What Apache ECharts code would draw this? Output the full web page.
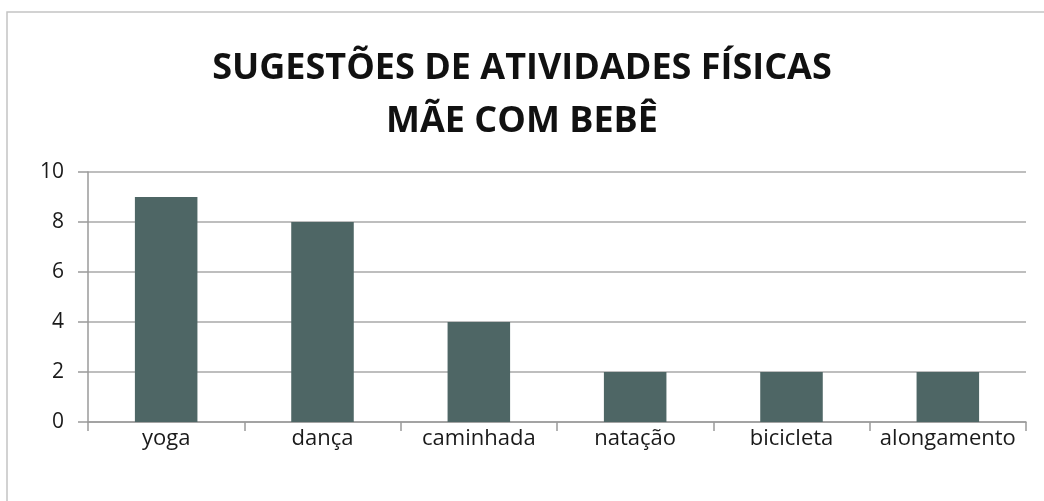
<!DOCTYPE html>
<html>
<head>
<meta charset="utf-8">
<script src="https://cdn.jsdelivr.net/npm/echarts@6/dist/echarts.min.js"></script>
<style>
  html, body { margin: 0; padding: 0; background: #fff; }
  #chart { width: 1044px; height: 501px; }
</style>
</head>
<body>
<div id="chart"></div>
<script>
// dados do gráfico
const categorias = ["yoga", "dança", "caminhada", "natação", "bicicleta", "alongamento"];
const valores = [9, 8, 4, 2, 2, 2];
const tituloLinhas = ["SUGESTÕES DE ATIVIDADES FÍSICAS", "MÃE COM BEBÊ"];

const chart = echarts.init(document.getElementById("chart"));

const option = {
  backgroundColor: "#ffffff",
  animation: false,
  // moldura externa
  graphic: [
    {
      type: "rect",
      shape: { x: 7, y: 12, width: 1060, height: 520 },
      style: { fill: "none", stroke: "#c4c4c4", lineWidth: 1.5 },
      silent: true
    }
  ],
  title: {
    text: tituloLinhas.join("\n"),
    left: "center",
    top: 37,
    textStyle: {
      fontFamily: "Open Sans",
      fontWeight: "bold",
      fontSize: 36,
      lineHeight: 53,
      color: "#111"
    }
  },
  grid: {
    left: 88,
    right: 18,
    top: 172,
    bottom: 79
  },
  xAxis: {
    type: "category",
    data: categorias,
    axisLine: { lineStyle: { color: "#9a9a9a", width: 1.5 } },
    axisTick: { show: true, length: 9, lineStyle: { color: "#9a9a9a", width: 1.5 } },
    axisLabel: {
      interval: 0,
      hideOverlap: false,
      fontFamily: "Open Sans",
      fontSize: 22,
      color: "#1a1a1a",
      margin: 6
    }
  },
  yAxis: {
    type: "value",
    min: 0,
    max: 10,
    interval: 2,
    axisLine: { show: true, lineStyle: { color: "#9a9a9a", width: 1.5 } },
    axisTick: { show: true, length: 10, lineStyle: { color: "#9a9a9a", width: 1.5 } },
    splitLine: { lineStyle: { color: "#a8a8a8", width: 1.5 } },
    axisLabel: {
      fontFamily: "Open Sans",
      fontSize: 21,
      color: "#1a1a1a",
      margin: 24
    }
  },
  series: [
    {
      type: "bar",
      data: valores,
      barWidth: "40%",
      itemStyle: { color: "#4e6665" }
    }
  ]
};

chart.setOption(option);
</script>
</body>
</html>
